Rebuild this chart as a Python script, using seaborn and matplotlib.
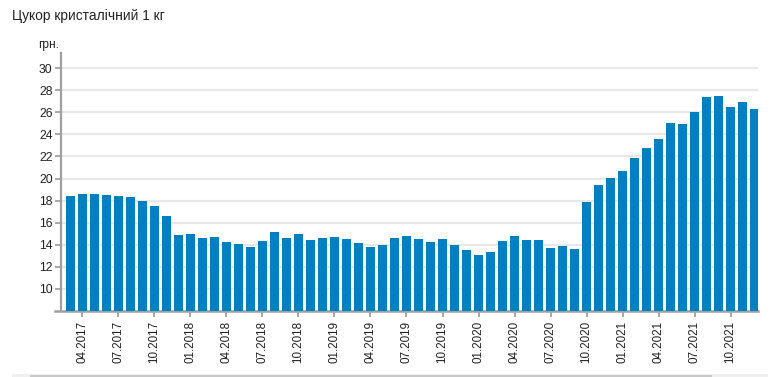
import matplotlib
matplotlib.use("Agg")
import matplotlib.pyplot as plt
import seaborn as sns
import pandas as pd
from matplotlib.patches import Rectangle

# Data: monthly price, 03.2017 .. 12.2021
months = [f"{m:02d}.{y}" for y in range(2017, 2022) for m in range(1, 13)][2:]
prices = [
    18.45, 18.63, 18.63, 18.54, 18.45, 18.36, 18.00, 17.55, 16.64, 14.92,  # 03.2017-12.2017
    15.01, 14.65, 14.74, 14.29, 14.11, 13.83, 14.38, 15.19, 14.65, 15.01, 14.47, 14.65,  # 2018
    14.74, 14.56, 14.20, 13.83, 14.02, 14.65, 14.83, 14.56, 14.29, 14.56, 14.02, 13.56,  # 2019
    13.11, 13.38, 14.38, 14.83, 14.44, 14.44, 13.71, 13.89, 13.62, 17.88, 19.42, 20.05,  # 2020
    20.69, 21.87, 22.77, 23.59, 25.04, 24.95, 26.03, 27.39, 27.48, 26.49, 26.94, 26.30,  # 2021
]
yticks = list(range(10, 31, 2))
title = "Цукор кристалічний 1 кг"
unit = "грн."

df = pd.DataFrame({"month": months, "price": prices})

sns.set_theme(style="white")
plt.rcParams["font.family"] = ["Liberation Sans", "DejaVu Sans"]

W, H = 774, 377
fig = plt.figure(figsize=(W / 100, H / 100), dpi=100)
ax = fig.add_axes([61 / W, (H - 311) / H, (758 - 61) / W, (311 - 53.3) / H])

sns.barplot(data=df, x="month", y="price", order=months, color="#0080C0",
            saturation=1, width=0.75, ax=ax, zorder=3)
for p in ax.patches:
    p.set_edgecolor("none")

ax.set_xlim(-0.79, len(months) - 1 + 0.29)
ax.set_ylim(8, 31.35)
ax.set_yticks(yticks)
ax.set_yticklabels([str(v) for v in yticks])
ax.yaxis.grid(True, color="#E8E8E8", linewidth=1.6, zorder=0)
ax.set_axisbelow(True)

tick_pos = [i for i, m in enumerate(months) if m[:2] in ("01", "04", "07", "10")]
ax.set_xticks(tick_pos)
ax.set_xticklabels([months[i] for i in tick_pos], rotation=90, fontsize=8.4, color="#222222")
ax.tick_params(axis="y", labelsize=8.8, labelcolor="#222222", length=4, width=1.2,
               color="#999999", pad=2, left=True)
ax.tick_params(axis="x", length=4, width=1.2, color="#999999", pad=3, bottom=True)
ax.set_xlabel("")
ax.set_ylabel("")

for s in ("top", "right"):
    ax.spines[s].set_visible(False)
ax.spines["left"].set_color("#A0A0A0")
ax.spines["left"].set_linewidth(1.6)
ax.spines["bottom"].set_color("#A0A0A0")
ax.spines["bottom"].set_linewidth(1.8)
ax.spines["bottom"].set_bounds(-0.79 - 6 / 12, len(months) - 1 + 0.29)
ax.spines["bottom"].set_clip_on(False)

fig.text(12 / W, 1 - 16 / H, title, fontsize=9.9, color="#222222", va="center", ha="left")
fig.text(38 / W, 1 - 45 / H, unit, fontsize=8.6, color="#222222", va="center", ha="left")

# bottom scrollbar-like band
fig.add_artist(Rectangle((12 / W, 0), (768 - 12) / W, 3.5 / H, transform=fig.transFigure,
                         facecolor="#F0F0F0", edgecolor="none"))
fig.add_artist(Rectangle((30 / W, 0.5 / H), (712 - 30) / W, 2 / H, transform=fig.transFigure,
                         facecolor="#C8C8C8", edgecolor="none"))

fig.savefig("out.png", dpi=100)
